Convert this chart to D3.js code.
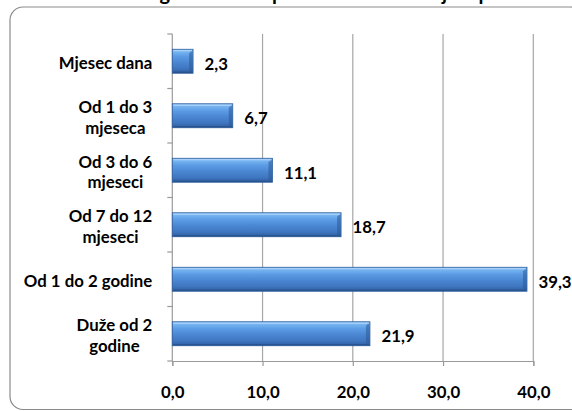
<!DOCTYPE html>
<html><head><meta charset="utf-8">
<script src="https://cdn.jsdelivr.net/npm/d3@7"></script>
<style>html,body{margin:0;padding:0;background:#fff;}svg{display:block;}</style>
</head><body>
<script>
const categories = [["Mjesec dana"],["Od 1 do 3","mjeseca"],["Od 3 do 6","mjeseci"],["Od 7 do 12","mjeseci"],["Od 1 do 2 godine"],["Duže od 2","godine"]];
const values = [2.3, 6.7, 11.1, 18.7, 39.3, 21.9];
const valueLabels = ["2,3","6,7","11,1","18,7","39,3","21,9"];
const xTicks = [0,10,20,30,40];
const xTickLabels = ["0,0","10,0","20,0","30,0","40,0"];
const titleText = "Koliko dugo ste tražili posao nakon sticanja diplome do zapošljavanja";

const W=572,H=411;
const m={l:172.3,r:W-533.3,t:34,b:H-361};
const font="Lato, 'Open Sans', sans-serif";
const fs=16.8;
const svg=d3.select("body").append("svg").attr("width",W).attr("height",H);
const defs=svg.append("defs");
const g1=defs.append("linearGradient").attr("id","bg").attr("x1",0).attr("y1",0).attr("x2",0).attr("y2",1);
[[0,"#8cc2f7"],[0.12,"#74b2f0"],[0.3,"#5b9be4"],[0.55,"#4a86d2"],[0.8,"#3f76c0"],[1,"#2d5c9c"]].forEach(s=>g1.append("stop").attr("offset",s[0]).attr("stop-color",s[1]));

// outer border
svg.append("rect").attr("x",10).attr("y",7).attr("width",W-10+12).attr("height",H-7-1.5).attr("rx",13).attr("fill","#fff").attr("stroke","#8a8a8a").attr("stroke-width",1.2);
// clipped title (only descenders visible, as in the reference)
svg.append("text").attr("x",380).attr("y",-0.5).attr("text-anchor","middle").attr("font-family",font).attr("font-weight","bold").attr("font-size",20).attr("fill","#000").text(titleText);

const x=d3.scaleLinear().domain([0,40]).range([m.l,W-m.r]);
const y=d3.scaleBand().domain(d3.range(categories.length)).range([m.t,H-m.b]).paddingInner(0.56).paddingOuter(0.28);
const yb=d3.scaleBand().domain(d3.range(categories.length)).range([m.t,H-m.b]);

// gridlines
svg.append("g").selectAll("line").data(xTicks.slice(1)).join("line")
 .attr("x1",d=>x(d)).attr("x2",d=>x(d)).attr("y1",m.t).attr("y2",H-m.b).attr("stroke","#a6a6a6").attr("stroke-width",1.2);

// x axis
const xa=svg.append("g").attr("transform",`translate(0,${H-m.b})`)
 .call(d3.axisBottom(x).tickValues(xTicks).tickSize(5).tickFormat((d,i)=>xTickLabels[i]));
xa.select(".domain").attr("stroke","#9a9a9a").attr("stroke-width",1.2);
xa.selectAll(".tick line").attr("stroke","#9a9a9a").attr("stroke-width",1.2);
xa.selectAll("text").attr("font-family",font).attr("font-weight","bold").attr("font-size",fs).attr("fill","#000").attr("dy",0).attr("y",37);

// y axis
const ya=svg.append("g").attr("transform",`translate(${m.l},0)`);
ya.append("line").attr("x1",0).attr("x2",0).attr("y1",m.t).attr("y2",H-m.b).attr("stroke","#9a9a9a").attr("stroke-width",1.2);
const bounds=d3.range(categories.length+1).map(i=>m.t+i*yb.step());
ya.selectAll("line.tk").data(bounds).join("line").attr("class","tk").attr("x1",-5).attr("x2",0).attr("y1",d=>d).attr("y2",d=>d).attr("stroke","#9a9a9a").attr("stroke-width",1.2);

// category labels: block right-aligned, lines centred within the block
const cl=svg.append("g");
const right=m.l-20;
categories.forEach((lines,i)=>{
  const cy=yb(i)+yb.bandwidth()/2;
  const t=cl.append("text").attr("text-anchor","middle").attr("font-family",font).attr("font-weight","bold").attr("font-size",fs).attr("fill","#000");
  const lh=20.5, n=lines.length;
  const spans=lines.map((s,j)=>t.append("tspan").attr("y",cy+(j-(n-1)/2)*lh+7.5).text(s));
  const maxW=d3.max(spans,sp=>sp.node().getComputedTextLength());
  spans.forEach(sp=>sp.attr("x",right-maxW/2));
});

// bars
const bars=svg.append("g");
values.forEach((v,i)=>{
  const by=y(i), bh=y.bandwidth(), bw=x(v)-x(0), x0=x(0), x1=x(v);
  bars.append("rect").attr("x",x0).attr("y",by).attr("width",bw).attr("height",bh).attr("fill","url(#bg)").attr("stroke","#2d5d9c").attr("stroke-width",0.8);
  bars.append("path").attr("d",`M${x1-0.5},${by+0.5} L${x1-4},${by+4} L${x1-4},${by+bh-3} L${x1-0.5},${by+bh-0.5} Z`).attr("fill","#2c5a96").attr("opacity",0.55);
  bars.append("line").attr("x1",x0+1).attr("x2",x1-1).attr("y1",by+1.5).attr("y2",by+1.5).attr("stroke","#b0d6fb").attr("stroke-width",1);
  bars.append("line").attr("x1",x0+1).attr("x2",x1-1).attr("y1",by+bh-1).attr("y2",by+bh-1).attr("stroke","#27508a").attr("stroke-width",1.2);
});

// value labels
svg.append("g").selectAll("text").data(values).join("text")
 .attr("x",d=>x(d)+11.5).attr("y",(d,i)=>y(i)+y.bandwidth()/2+8.5)
 .attr("font-family",font).attr("font-weight","bold").attr("font-size",fs).attr("fill","#000")
 .text((d,i)=>valueLabels[i]);
</script>
</body></html>
